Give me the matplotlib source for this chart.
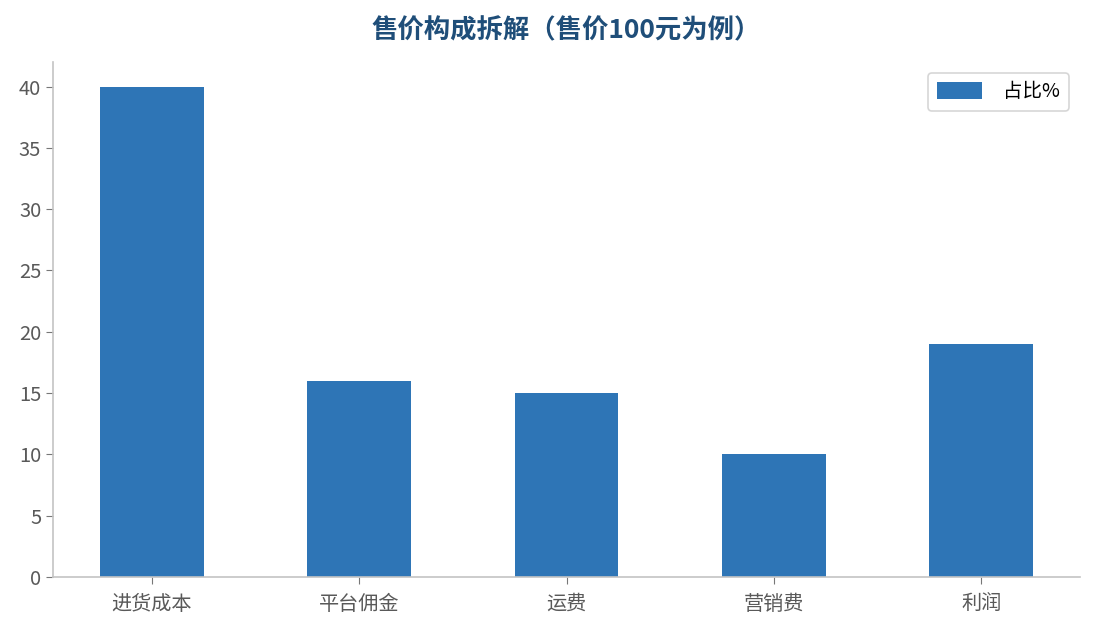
import matplotlib
matplotlib.use("Agg")
import matplotlib.pyplot as plt
import numpy as np

plt.rcParams['font.family'] = ['Noto Sans CJK SC', 'DejaVu Sans']

categories = ["进货成本", "平台佣金", "运费", "营销费", "利润"]
values = [40, 16, 15, 10, 19]
series_name = "占比%"
title = "售价构成拆解（售价100元为例）"

fig = plt.figure(figsize=(10.95, 6.3), dpi=100)
ax = fig.add_axes([0.0484, 0.084, 0.9376, 0.8176])
x = np.arange(len(categories))
ax.bar(x, values, width=0.5, color="#2e75b6", label=series_name)
ax.set_xlim(-0.477, len(categories) - 1 + 0.475)
ax.set_ylim(0, 42)
ax.set_xticks(x)
ax.set_xticklabels(categories)
ax.set_yticks(range(0, 41, 5))
for s in ["top", "right"]:
    ax.spines[s].set_visible(False)
for s in ["left", "bottom"]:
    ax.spines[s].set_color("#c4c4c4")
    ax.spines[s].set_linewidth(1.2)
ax.tick_params(colors="#595959", labelsize=14.5, length=5)
ax.tick_params(axis="both", color="#777777")
ax.tick_params(axis="x", pad=7)
ax.set_title(title, fontsize=19, fontweight="bold", color="#1f4e79", pad=17)
leg = ax.legend(loc="upper right", fontsize=14, frameon=True, borderpad=0.45,
                handlelength=2.3, handleheight=1.0, handletextpad=1.1,
                borderaxespad=0.55)
leg.get_frame().set_edgecolor("#cccccc")
leg.get_frame().set_linewidth(1.2)
fig.savefig("out.png", dpi=100)
